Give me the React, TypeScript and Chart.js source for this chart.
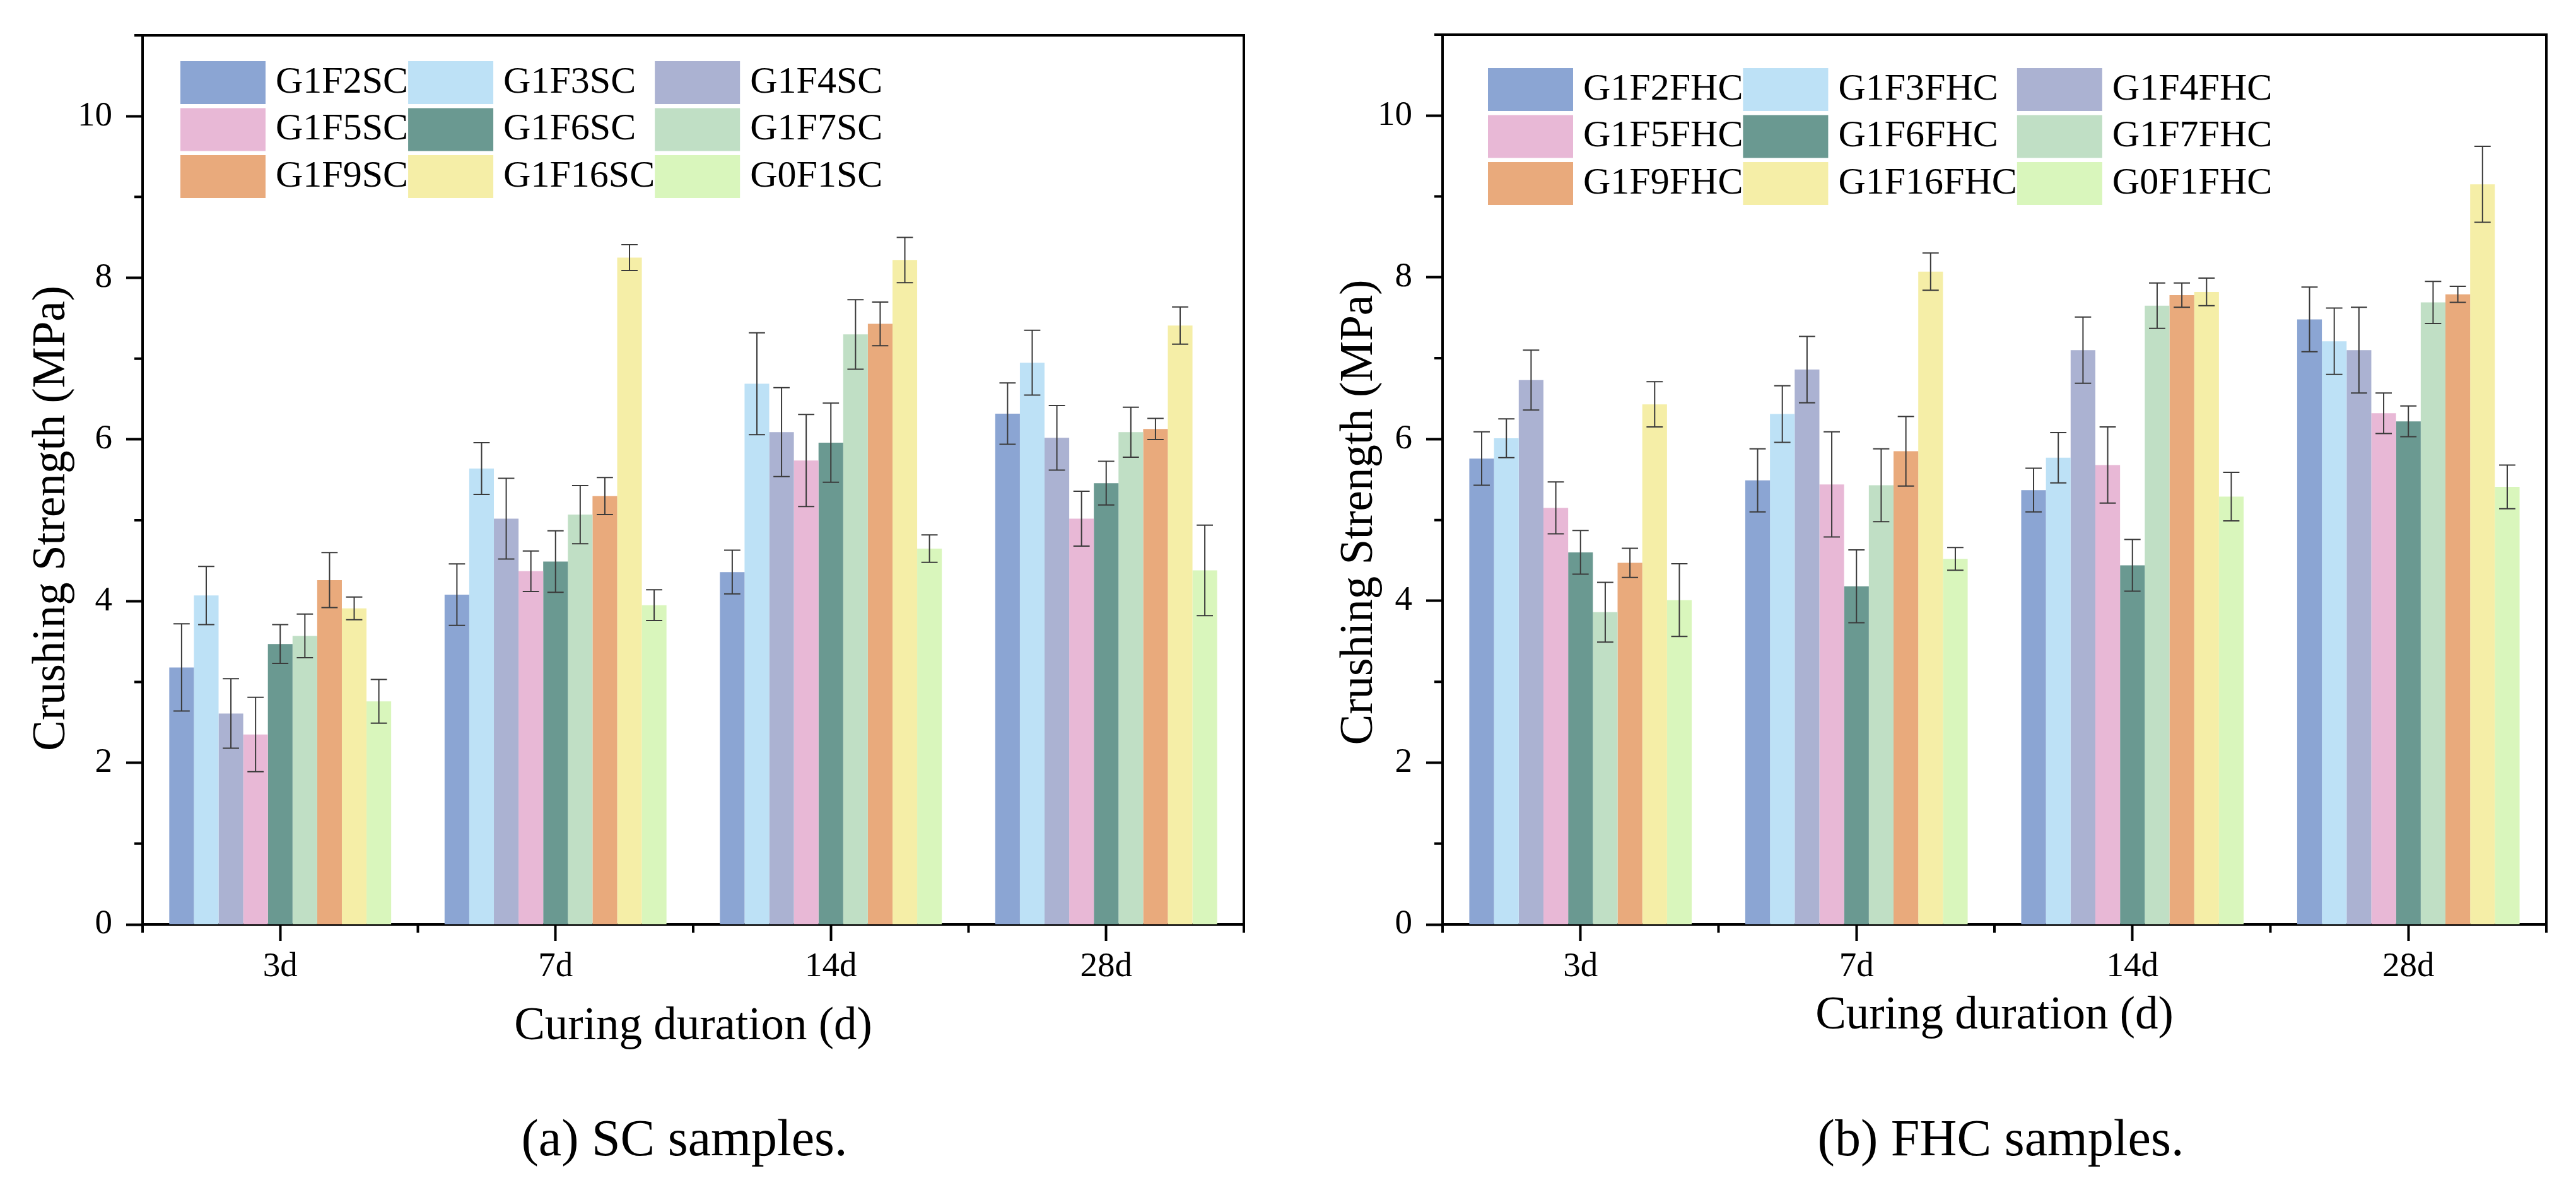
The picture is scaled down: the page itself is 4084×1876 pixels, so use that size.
import React, { useEffect, useRef } from 'react';
import { Chart, registerables } from 'chart.js';

Chart.register(...registerables);

const FONT = '"Liberation Serif", "Times New Roman", serif';

// ---------- data ----------
const categories = ['3d', '7d', '14d', '28d'];
const yTickStep = 2;
const yMin = 0;
const yMax = 11;
const yMinorTicks = [1, 3, 5, 7, 9, 11];

const scLabels = ['G1F2SC', 'G1F3SC', 'G1F4SC', 'G1F5SC', 'G1F6SC', 'G1F7SC', 'G1F9SC', 'G1F16SC', 'G0F1SC'];
const fhcLabels = ['G1F2FHC', 'G1F3FHC', 'G1F4FHC', 'G1F5FHC', 'G1F6FHC', 'G1F7FHC', 'G1F9FHC', 'G1F16FHC', 'G0F1FHC'];
const seriesColors = ['#8ba5d3', '#bde1f6', '#abb2d2', '#e8b8d6', '#6a9991', '#c0dfc5', '#e9aa7c', '#f5eea7', '#d9f6bc'];

// SC samples (mean, error)
const scG1F2 = [3.18, 4.08, 4.36, 6.32];
const scG1F2Err = [0.54, 0.38, 0.27, 0.38];
const scG1F3 = [4.07, 5.64, 6.69, 6.95];
const scG1F3Err = [0.36, 0.32, 0.63, 0.40];
const scG1F4 = [2.61, 5.02, 6.09, 6.02];
const scG1F4Err = [0.43, 0.50, 0.55, 0.40];
const scG1F5 = [2.35, 4.37, 5.74, 5.02];
const scG1F5Err = [0.46, 0.25, 0.57, 0.34];
const scG1F6 = [3.47, 4.49, 5.96, 5.46];
const scG1F6Err = [0.24, 0.38, 0.49, 0.27];
const scG1F7 = [3.57, 5.07, 7.30, 6.09];
const scG1F7Err = [0.27, 0.36, 0.43, 0.31];
const scG1F9 = [4.26, 5.30, 7.43, 6.13];
const scG1F9Err = [0.34, 0.23, 0.27, 0.13];
const scG1F16 = [3.91, 8.25, 8.22, 7.41];
const scG1F16Err = [0.14, 0.16, 0.28, 0.23];
const scG0F1 = [2.76, 3.95, 4.65, 4.38];
const scG0F1Err = [0.27, 0.19, 0.17, 0.56];

// FHC samples (mean, error)
const fhcG1F2 = [5.76, 5.49, 5.37, 7.48];
const fhcG1F2Err = [0.33, 0.39, 0.27, 0.40];
const fhcG1F3 = [6.01, 6.31, 5.77, 7.21];
const fhcG1F3Err = [0.24, 0.35, 0.31, 0.41];
const fhcG1F4 = [6.73, 6.86, 7.10, 7.10];
const fhcG1F4Err = [0.37, 0.41, 0.41, 0.53];
const fhcG1F5 = [5.15, 5.44, 5.68, 6.32];
const fhcG1F5Err = [0.32, 0.65, 0.47, 0.25];
const fhcG1F6 = [4.60, 4.18, 4.44, 6.22];
const fhcG1F6Err = [0.27, 0.45, 0.32, 0.19];
const fhcG1F7 = [3.86, 5.43, 7.65, 7.69];
const fhcG1F7Err = [0.37, 0.45, 0.28, 0.26];
const fhcG1F9 = [4.47, 5.85, 7.78, 7.79];
const fhcG1F9Err = [0.18, 0.43, 0.15, 0.10];
const fhcG1F16 = [6.43, 8.07, 7.82, 9.15];
const fhcG1F16Err = [0.28, 0.23, 0.17, 0.47];
const fhcG0F1 = [4.01, 4.52, 5.29, 5.41];
const fhcG0F1Err = [0.45, 0.14, 0.30, 0.27];

const scValues = [scG1F2, scG1F3, scG1F4, scG1F5, scG1F6, scG1F7, scG1F9, scG1F16, scG0F1];
const scErrors = [scG1F2Err, scG1F3Err, scG1F4Err, scG1F5Err, scG1F6Err, scG1F7Err, scG1F9Err, scG1F16Err, scG0F1Err];
const fhcValues = [fhcG1F2, fhcG1F3, fhcG1F4, fhcG1F5, fhcG1F6, fhcG1F7, fhcG1F9, fhcG1F16, fhcG0F1];
const fhcErrors = [fhcG1F2Err, fhcG1F3Err, fhcG1F4Err, fhcG1F5Err, fhcG1F6Err, fhcG1F7Err, fhcG1F9Err, fhcG1F16Err, fhcG0F1Err];

const xTitle = 'Curing duration (d)';
const yTitle = 'Crushing Strength (MPa)';

// ---------- layout ----------
const CANVAS_W = 2042;
const CANVAS_H = 1700;
const X_AXIS_H = 234;

type Panel = {
  labels: string[];
  values: number[][];
  errors: number[][];
  left: number;
  yAxisWidth: number;
  padRight: number;
  padTop: number;
  legendDX: number;
  legendDY: number;
  yTitleDX: number;
  yTitleDY: number;
  xTitlePadBottom: number;
  caption: string;
  captionCenter: number;
};

const panels: Panel[] = [
  {
    labels: scLabels, values: scValues, errors: scErrors,
    left: 0, yAxisWidth: 226, padRight: 70, padTop: 56,
    legendDX: 60, legendDY: 41, yTitleDX: 124, yTitleDY: 61, xTitlePadBottom: 27,
    caption: '(a) SC samples.', captionCenter: 1085,
  },
  {
    labels: fhcLabels, values: fhcValues, errors: fhcErrors,
    left: 2042, yAxisWidth: 245, padRight: 47, padTop: 53,
    legendDX: 72, legendDY: 53, yTitleDX: 112, yTitleDY: 52, xTitlePadBottom: 44,
    caption: '(b) FHC samples.', captionCenter: 3172,
  },
];

const decorPlugin = {
  id: 'decor',
  afterDatasetsDraw(chart: any, _args: any, opts: any) {
    const ctx = chart.ctx;
    const ys = chart.scales.y;
    ctx.save();
    ctx.strokeStyle = '#3a3a3a';
    ctx.lineWidth = 2;
    chart.data.datasets.forEach((ds: any, i: number) => {
      const meta = chart.getDatasetMeta(i);
      meta.data.forEach((bar: any, j: number) => {
        const v = ds.data[j];
        const e = ds.errors[j];
        const px = bar.x;
        const yt = ys.getPixelForValue(v + e);
        const yb = ys.getPixelForValue(v - e);
        const hw = bar.width * 0.33;
        ctx.beginPath();
        ctx.moveTo(px, yt);
        ctx.lineTo(px, yb);
        ctx.moveTo(px - hw, yt);
        ctx.lineTo(px + hw, yt);
        ctx.moveTo(px - hw, yb);
        ctx.lineTo(px + hw, yb);
        ctx.stroke();
      });
    });
    ctx.restore();
  },
  afterDraw(chart: any, _args: any, opts: any) {
    const ctx = chart.ctx;
    const ca = chart.chartArea;
    const xs = chart.scales.x;
    const ys = chart.scales.y;
    ctx.save();
    // frame top + right
    ctx.strokeStyle = '#000';
    ctx.lineWidth = 4;
    ctx.beginPath();
    ctx.moveTo(ca.left - 2, ca.top);
    ctx.lineTo(ca.right, ca.top);
    ctx.lineTo(ca.right, ca.bottom + 2);
    ctx.stroke();
    // minor y ticks
    ctx.beginPath();
    yMinorTicks.forEach((v) => {
      const py = ys.getPixelForValue(v);
      ctx.moveTo(ca.left - 13, py);
      ctx.lineTo(ca.left, py);
    });
    // minor x ticks at category boundaries
    const n = xs.ticks.length;
    const c0 = xs.getPixelForTick(0);
    const w = n > 1 ? xs.getPixelForTick(1) - c0 : ca.right - ca.left;
    for (let k = 0; k <= n; k++) {
      const px = c0 - w / 2 + k * w;
      ctx.moveTo(px, ca.bottom);
      ctx.lineTo(px, ca.bottom + 13);
    }
    ctx.stroke();

    // legend (3 columns)
    ctx.font = `60px ${FONT}`;
    ctx.textBaseline = 'middle';
    ctx.textAlign = 'left';
    const dsets = chart.data.datasets;
    const cols = 3;
    const rows = Math.ceil(dsets.length / cols);
    const boxW = 135, boxH = 68, rowPitch = 74.5, gap = 16;
    let cx = ca.left + opts.legendDX;
    for (let c = 0; c < cols; c++) {
      let maxW = 0;
      for (let r = 0; r < rows; r++) {
        const idx = r * cols + c;
        if (idx >= dsets.length) continue;
        const ds = dsets[idx];
        const by = ca.top + opts.legendDY + r * rowPitch;
        ctx.fillStyle = ds.backgroundColor;
        ctx.fillRect(cx, by, boxW, boxH);
        ctx.fillStyle = '#000';
        ctx.fillText(ds.label, cx + boxW + gap, by + boxH / 2);
        maxW = Math.max(maxW, ctx.measureText(ds.label).width);
      }
      cx += boxW + gap + maxW;
    }

    // y-axis title
    ctx.font = `73px ${FONT}`;
    ctx.fillStyle = '#000';
    ctx.textAlign = 'center';
    ctx.textBaseline = 'alphabetic';
    ctx.translate(ca.left - opts.yTitleDX, (ca.top + ca.bottom) / 2 + opts.yTitleDY);
    ctx.rotate(-Math.PI / 2);
    ctx.fillText(opts.yTitle, 0, 0);
    ctx.restore();
  },
};

function PanelChart({ p }: { p: Panel }) {
  const ref = useRef<HTMLCanvasElement | null>(null);
  useEffect(() => {
    if (!ref.current) return;
    const chart = new Chart(ref.current, {
      type: 'bar',
      data: {
        labels: categories,
        datasets: p.labels.map((label, i) => ({
          label,
          data: p.values[i],
          errors: p.errors[i],
          backgroundColor: seriesColors[i],
          borderWidth: 0,
          categoryPercentage: 0.806,
          barPercentage: 1,
        })) as any,
      },
      options: {
        responsive: false,
        animation: false,
        devicePixelRatio: 1,
        layout: { padding: { left: 0, right: p.padRight, top: p.padTop, bottom: 0 } },
        plugins: {
          legend: { display: false },
          tooltip: { enabled: false },
          decor: {
            legendDX: p.legendDX,
            legendDY: p.legendDY,
            yTitleDX: p.yTitleDX,
            yTitleDY: p.yTitleDY,
            yTitle,
          },
        } as any,
        scales: {
          x: {
            type: 'category',
            offset: true,
            grid: {
              display: true,
              drawOnChartArea: false,
              drawTicks: true,
              tickLength: 26,
              tickWidth: 4,
              tickColor: '#000',
              offset: false,
            },
            border: { display: true, width: 4, color: '#000' },
            ticks: { color: '#000', font: { family: FONT, size: 55 }, padding: 9, maxRotation: 0 },
            title: {
              display: true,
              text: xTitle,
              color: '#000',
              font: { family: FONT, size: 73, lineHeight: 1.2 },
              padding: { top: 0, bottom: p.xTitlePadBottom },
            },
            afterFit: (s: any) => { s.height = X_AXIS_H; },
          },
          y: {
            min: yMin,
            max: yMax,
            grid: {
              display: true,
              drawOnChartArea: false,
              drawTicks: true,
              tickLength: 26,
              tickWidth: 4,
              tickColor: '#000',
            },
            border: { display: true, width: 4, color: '#000' },
            ticks: {
              stepSize: yTickStep,
              includeBounds: false,
              color: '#000',
              font: { family: FONT, size: 55 },
              padding: 22,
            },
            afterFit: (s: any) => { s.width = p.yAxisWidth; },
          },
        } as any,
      },
      plugins: [decorPlugin as any],
    });
    return () => chart.destroy();
  }, [p]);
  return (
    <canvas
      ref={ref}
      width={CANVAS_W}
      height={CANVAS_H}
      style={{ position: 'absolute', left: p.left, top: 0, width: CANVAS_W, height: CANVAS_H }}
    />
  );
}

export default function App() {
  return (
    <div style={{ position: 'absolute', left: 0, top: 0, width: 4084, height: 1876, background: '#fff', overflow: 'hidden' }}>
      {panels.map((p, i) => (
        <React.Fragment key={i}>
          <PanelChart p={p} />
          <div
            style={{
              position: 'absolute',
              left: p.captionCenter - 700,
              width: 1400,
              top: 1764,
              fontFamily: FONT,
              fontSize: 82,
              lineHeight: '82px',
              textAlign: 'center',
              color: '#000',
            }}
          >
            {p.caption}
          </div>
        </React.Fragment>
      ))}
    </div>
  );
}
